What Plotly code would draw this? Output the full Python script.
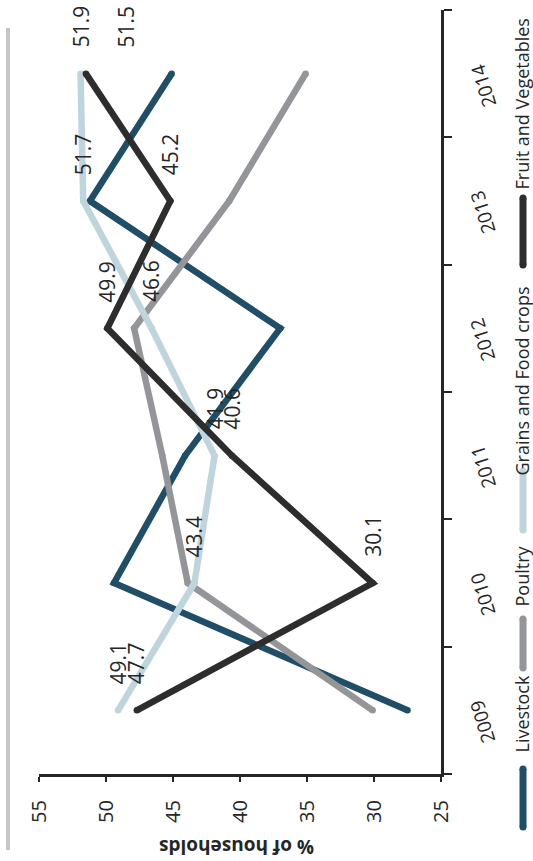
import plotly.graph_objects as go

# ---- data -------------------------------------------------------------
years = ["2009", "2010", "2011", "2012", "2013", "2014"]
livestock = [27.5, 49.4, 44.1, 37.0, 51.2, 45.1]
poultry = [30.1, 43.9, 45.8, 47.9, 40.8, 35.1]
grains = [49.1, 43.4, 41.9, 46.6, 51.7, 51.9]
fruit_veg = [47.7, 30.1, 40.6, 49.9, 45.2, 51.5]

value_ticks = [55, 50, 45, 40, 35, 30, 25]
series_names = ["Livestock", "Poultry", "Grains and Food crops", "Fruit and Vegetables"]

# ---- styling ----------------------------------------------------------
W, H = 533, 861
PX0, PX1 = 39, 441          # plot area, horizontal pixels
PY0, PY1 = 10, 774          # plot area, vertical pixels
FONT = "Open Sans"
INK = "#262626"
colors = ["#1f4e66", "#939598", "#bfd5dd", "#2d2d2d"]
LW = 6.5


def px(x):
    return x / W


def py(y):
    return 1 - y / H


fig = go.Figure()

all_series = [livestock, poultry, grains, fruit_veg]
for name, vals, col in zip(series_names, all_series, colors):
    fig.add_trace(go.Scatter(
        x=vals, y=years, name=name, mode="lines+markers",
        line=dict(color=col, width=LW),
        marker=dict(color=col, size=LW),
        hoverinfo="skip", showlegend=False, xaxis="x", yaxis="y",
    ))

annotations = []

# value labels for the two crop series (category index positions on y)
labelled = [grains, fruit_veg]
label_xshift = {(1, 5): 40}
for si, vals in enumerate(labelled):
    for i, v in enumerate(vals):
        annotations.append(dict(
            x=v, y=i, xref="x", yref="y", text=f"{v:.1f}",
            showarrow=False, textangle=-90, yshift=47,
            xshift=label_xshift.get((si, i), 0),
            xanchor="center", yanchor="middle",
            font=dict(family=FONT, size=21, color=INK),
        ))

# year labels beside the category axis, slanted
for i, yr in enumerate(years):
    annotations.append(dict(
        x=px(483), y=i, xref="paper", yref="y", text=yr,
        showarrow=False, textangle=-107, yshift=-12,
        xanchor="center", yanchor="middle",
        font=dict(family=FONT, size=19, color=INK),
    ))

# legend drawn down the right edge, reading upward
legend_x = 523
legend_text_x = 521.5
legend_swatch = [(769, 827), (619, 668), (471, 530), (198, 265)]
legend_text_y = [714, 576, 381, 104]
for name, col, (s0, s1), ty in zip(series_names, colors, legend_swatch, legend_text_y):
    fig.add_trace(go.Scatter(
        x=[legend_x, legend_x], y=[s0, s1], mode="lines+markers",
        line=dict(color=col, width=7), marker=dict(color=col, size=7),
        hoverinfo="skip", showlegend=False, xaxis="x2", yaxis="y2",
    ))
    annotations.append(dict(
        x=px(legend_text_x), y=py(ty), xref="paper", yref="paper", text=name,
        showarrow=False, textangle=-90, xanchor="center", yanchor="middle",
        font=dict(family=FONT, size=18, color=INK),
    ))

# value-axis title, upside down beneath the tick labels
annotations.append(dict(
    x=px(237), y=py(847), xref="paper", yref="paper",
    text="<b>% of households</b>", showarrow=False, textangle=180,
    xanchor="center", yanchor="middle",
    font=dict(family=FONT, size=19, color=INK),
))

shapes = [dict(
    type="rect", xref="paper", yref="paper",
    x0=px(6), x1=px(10), y0=py(850), y1=py(28),
    fillcolor="#c6c6ca", line=dict(width=0), layer="below",
)]

fig.update_layout(
    width=W, height=H,
    margin=dict(l=0, r=0, t=0, b=0, autoexpand=False),
    paper_bgcolor="white", plot_bgcolor="rgba(0,0,0,0)",
    font=dict(family=FONT, color=INK),
    xaxis=dict(
        domain=[px(PX0), px(PX1)], range=[55, 25], anchor="y",
        tickmode="array", tickvals=value_ticks,
        ticktext=[str(t) for t in value_ticks],
        tickangle=-90, ticks="outside", ticklen=5, tickwidth=2,
        tickcolor=INK, showline=True, linewidth=3, linecolor=INK,
        showgrid=False, zeroline=False, ticklabelstandoff=10,
        automargin=False,
        tickfont=dict(family=FONT, size=20, color=INK),
    ),
    yaxis=dict(
        domain=[py(PY1), py(PY0)], type="category",
        categoryorder="array", categoryarray=years, range=[-0.5, 5.5],
        anchor="x", side="right", tickson="boundaries",
        ticks="outside", ticklen=8, tickwidth=2, tickcolor=INK,
        showline=True, linewidth=3, linecolor=INK, showticklabels=False,
        showgrid=False, zeroline=False, automargin=False,
    ),
    xaxis2=dict(domain=[0, 1], range=[0, W], anchor="y2", visible=False,
                fixedrange=True, automargin=False),
    yaxis2=dict(domain=[0, 1], range=[H, 0], anchor="x2", visible=False,
                fixedrange=True, automargin=False),
    annotations=annotations,
    shapes=shapes,
)

fig.write_html("out.html")
